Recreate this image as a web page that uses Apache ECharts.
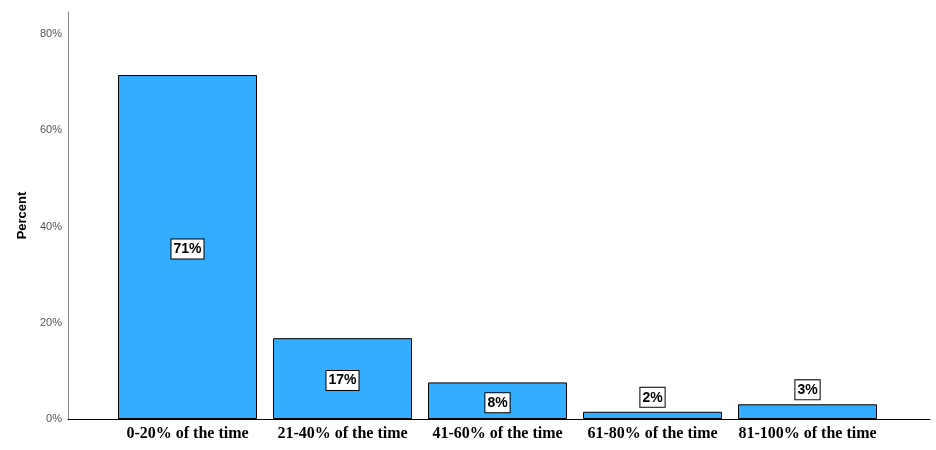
<!DOCTYPE html>
<html><head><meta charset="utf-8">
<script src="https://cdn.jsdelivr.net/npm/echarts@6/dist/echarts.min.js"></script>
<style>html,body{margin:0;padding:0;background:#fff}#c{width:936px;height:450px}</style>
</head><body><div id="c"></div>
<script>
const categories = ['0-20% of the time','21-40% of the time','41-60% of the time','61-80% of the time','81-100% of the time'];
const values = [71.5, 16.8, 7.6, 1.5, 3.05];
const valueLabels = ['71%','17%','8%','2%','3%'];
const yTicks = [0, 20, 40, 60, 80];

const chart = echarts.init(document.getElementById('c'));
const labelBase = {
  show: true, color: '#000', fontFamily: 'Liberation Sans, Arial, sans-serif', fontWeight: 'bold', fontSize: 14,
  backgroundColor: '#fff', borderColor: '#000', borderWidth: 1, padding: [3, 2, 2, 2]
};
chart.setOption({
  animation: false,
  grid: [
    {left: 68, right: 6, top: 12, bottom: 31},
    {left: 110, right: 51, top: 12, bottom: 31}
  ],
  xAxis: [
    {gridIndex: 0, type: 'value', min: 0, max: 1, axisLine: {show: true, lineStyle: {color: '#000', width: 1}}, axisTick: {show: false}, axisLabel: {show: false}, splitLine: {show: false}},
    {gridIndex: 1, type: 'category', data: categories, axisLine: {show: false}, axisTick: {show: false},
     axisLabel: {color: '#000', fontFamily: 'Liberation Serif, Times New Roman, serif', fontWeight: 'bold', fontSize: 16, margin: 7, interval: 0}}
  ],
  yAxis: [
    {gridIndex: 0, type: 'value', min: 0, max: 84.6, interval: 20,
     name: 'Percent', nameLocation: 'middle', nameGap: 39, nameRotate: 90,
     nameTextStyle: {color: '#000', fontFamily: 'Liberation Sans, Arial, sans-serif', fontWeight: 'bold', fontSize: 13},
     axisLine: {show: true, lineStyle: {color: '#888', width: 1}}, axisTick: {show: false}, splitLine: {show: false},
     axisLabel: {color: '#555', fontFamily: 'Liberation Sans, Arial, sans-serif', fontSize: 11, margin: 6,
       formatter: v => yTicks.indexOf(v) >= 0 ? v + '%' : ''}},
    {gridIndex: 1, type: 'value', min: 0, max: 84.6, show: false}
  ],
  series: [{
    type: 'bar', xAxisIndex: 1, yAxisIndex: 1, barWidth: 139,
    itemStyle: {color: '#33adff', borderColor: '#000', borderWidth: 1},
    data: values.map((v, i) => {
      const small = v < 5;
      return {value: v, label: Object.assign({}, labelBase, {
        position: small ? 'top' : 'inside', distance: 5, offset: small ? [0, 0] : [0, 2], formatter: valueLabels[i]})};
    })
  }]
});
</script></body></html>
